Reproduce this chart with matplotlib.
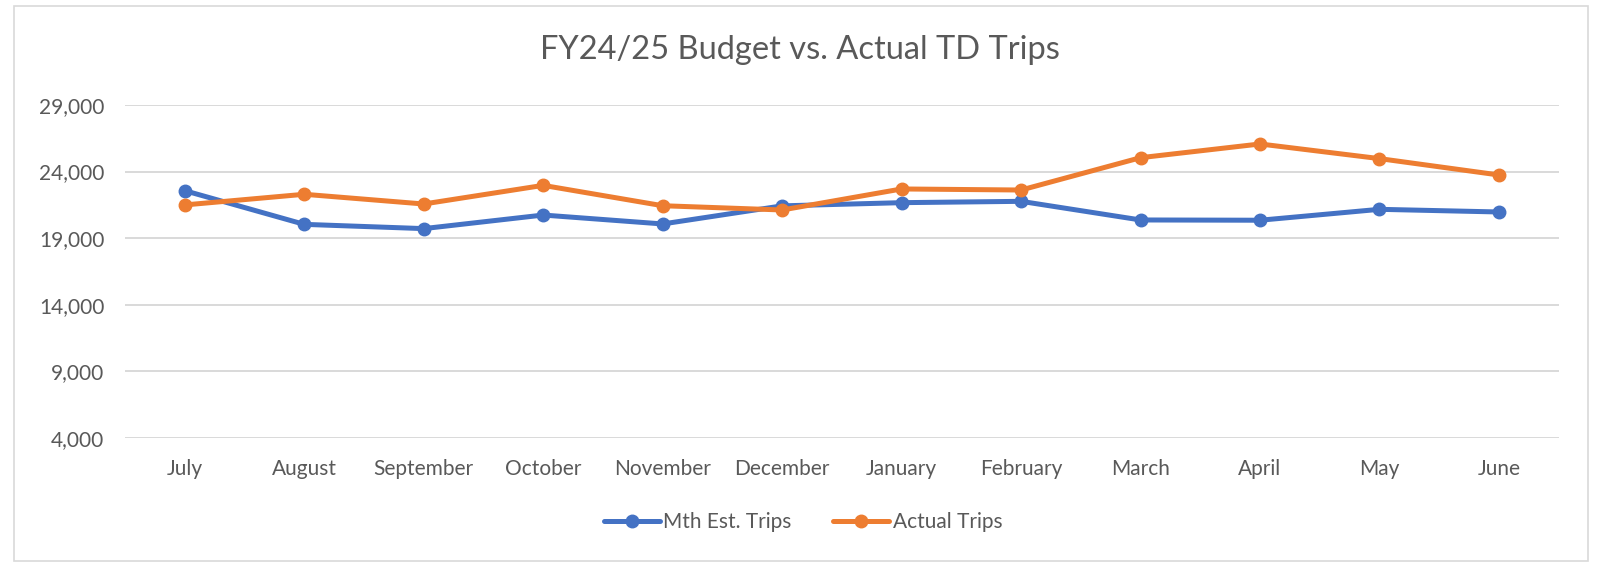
import matplotlib.pyplot as plt
from matplotlib.patches import Rectangle
from matplotlib.ticker import FuncFormatter

months = ["July", "August", "September", "October", "November", "December",
          "January", "February", "March", "April", "May", "June"]
est_trips = [22560, 20030, 19710, 20730, 20060, 21420,
             21660, 21760, 20360, 20340, 21160, 20960]
actual_trips = [21490, 22290, 21560, 22960, 21430, 21110,
                22690, 22610, 25040, 26070, 24970, 23740]
y_ticks = [4000, 9000, 14000, 19000, 24000, 29000]

plt.rcParams["font.family"] = ["Lato", "DejaVu Sans"]
text_color = "#595959"

fig = plt.figure(figsize=(15.99, 5.62), dpi=100)
ax = fig.add_axes([0.0782, 0.2212, 0.8966, 0.592])

x = list(range(len(months)))
ax.plot(x, est_trips, color="#4472C4", lw=3.6, marker="o", ms=9,
        label="Mth Est. Trips", solid_capstyle="round", zorder=3)
ax.plot(x, actual_trips, color="#ED7D31", lw=3.6, marker="o", ms=9,
        label="Actual Trips", solid_capstyle="round", zorder=3)

ax.set_xlim(-0.5, len(months) - 0.5)
ax.set_ylim(4000, 29000)
ax.set_yticks(y_ticks)
ax.yaxis.set_major_formatter(FuncFormatter(lambda v, p: f"{int(v):,}"))
ax.set_xticks(x)
ax.set_xticklabels(months)
ax.tick_params(axis="both", length=0, labelsize=15, labelcolor=text_color)
ax.tick_params(axis="x", pad=15)
ax.tick_params(axis="y", pad=15)
ax.grid(axis="y", color="#D9D9D9", lw=1.4)
ax.set_axisbelow(True)
for s in ax.spines.values():
    s.set_visible(False)

fig.text(0.5, 1 - 50 / 562, "FY24/25 Budget vs. Actual TD Trips",
         ha="center", va="center", fontsize=23.5, color=text_color)

fig.legend(loc="center", bbox_to_anchor=(803 / 1599, 1 - 522 / 562), ncol=2,
           frameon=False, fontsize=15, labelcolor=text_color,
           handlelength=2.7, handletextpad=0.15, columnspacing=2.0)

# chart border
fig.patches.append(Rectangle((14 / 1599, 1 - 561 / 562), 1574 / 1599, 555 / 562,
                             transform=fig.transFigure, fill=False,
                             edgecolor="#D9D9D9", lw=1.2))

fig.savefig("out.png", dpi=100, facecolor="white")
